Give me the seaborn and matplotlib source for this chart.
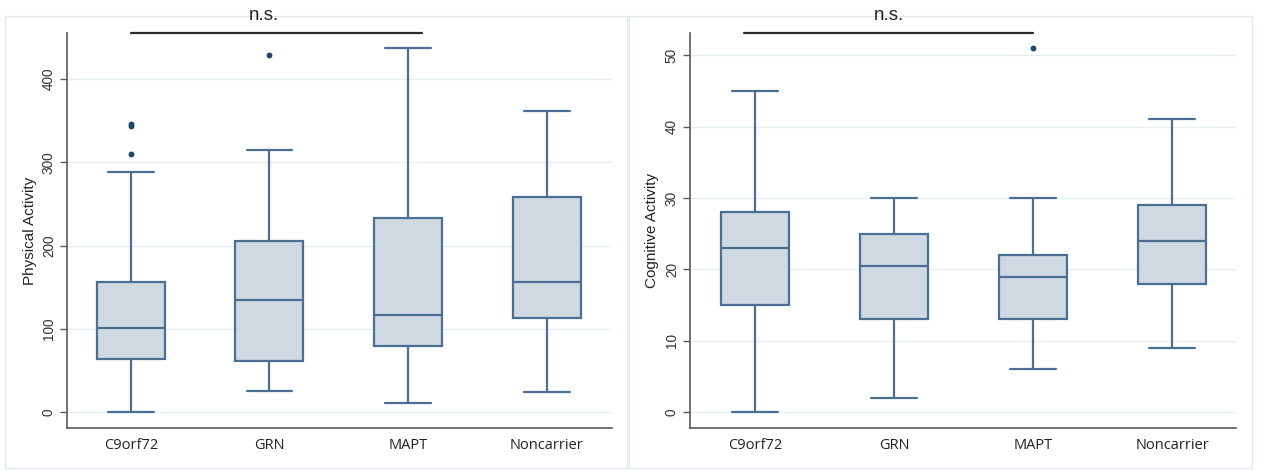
import numpy as np
import pandas as pd
import matplotlib
matplotlib.use("Agg")
import matplotlib.pyplot as plt
import seaborn as sns
from matplotlib.patches import Rectangle

# Carrier groups on the x axis
groups = ["C9orf72", "GRN", "MAPT", "Noncarrier"]

# Physical activity: whisker ends, quartiles and median per group
phys_low = [0, 26, 11, 25]
phys_q1 = [64, 62, 80, 113]
phys_med = [101, 135, 117, 157]
phys_q3 = [156, 206, 233, 258]
phys_high = [288, 315, 437, 361]
phys_out_group = ["C9orf72", "C9orf72", "C9orf72", "GRN"]
phys_out_value = [310, 343, 346, 429]
phys_ticks = [0, 100, 200, 300, 400]

# Cognitive activity: whisker ends, quartiles and median per group
cog_low = [0, 2, 6, 9]
cog_q1 = [15, 13, 13, 18]
cog_med = [23, 20.5, 19, 24]
cog_q3 = [28, 25, 22, 29]
cog_high = [45, 30, 30, 41]
cog_out_group = ["MAPT"]
cog_out_value = [51]
cog_ticks = [0, 10, 20, 30, 40, 50]

BOX_FILL = "#CFD9E2"
BOX_EDGE = "#4B6F94"
DOT = "#1A476F"
GRID = "#E3EFF1"
SPINE = "#5A5A5A"
FRAME = "#E2E9EC"


def five_number_frame(low, q1, med, q3, high):
    # five ordered values per group reproduce the quartiles exactly
    rows = []
    for g, a, b, c, d, e in zip(groups, low, q1, med, q3, high):
        for v in (a, b, c, d, e):
            rows.append({"group": g, "value": v})
    return pd.DataFrame(rows)


sns.set_theme(style="white")
plt.rcParams["font.family"] = ["Liberation Sans", "DejaVu Sans"]

fig = plt.figure(figsize=(12.62, 4.70), dpi=100)
W, H = 1262.0, 470.0

# light panel frames behind each plot
for x0, x1 in [(5, 627), (629, 1252)]:
    fig.patches.append(Rectangle((x0 / W, 1 - 468 / H), (x1 - x0) / W, (468 - 16) / H,
                                 transform=fig.transFigure, facecolor="white",
                                 edgecolor=FRAME, linewidth=1.0, zorder=-10))

panels = [
    dict(rect=[67 / W, 1 - 428.3 / H, 545 / W, 395.3 / H],
         df=five_number_frame(phys_low, phys_q1, phys_med, phys_q3, phys_high),
         out_g=phys_out_group, out_v=phys_out_value, ticks=phys_ticks,
         ylim=(-19, 455), xlim=(-0.46, 3.47), label="Physical Activity",
         label_x=-0.055, span=(0.0, 2.1), ns_x=0.96),
    dict(rect=[690 / W, 1 - 428.3 / H, 546 / W, 395.3 / H],
         df=five_number_frame(cog_low, cog_q1, cog_med, cog_q3, cog_high),
         out_g=cog_out_group, out_v=cog_out_value, ticks=cog_ticks,
         ylim=(-2.24, 53.1), xlim=(-0.47, 3.46), label="Cognitive Activity",
         label_x=-0.057, span=(-0.08, 2.0), ns_x=0.96),
]

for p in panels:
    ax = fig.add_axes(p["rect"])
    ax.set_zorder(1)
    ax.patch.set_alpha(0)
    sns.boxplot(data=p["df"], x="group", y="value", order=groups, whis=(0, 100),
                width=0.49, color=BOX_FILL, linecolor=BOX_EDGE, linewidth=1.6,
                saturation=1, fliersize=0, capwidths=0.33, ax=ax)
    sns.stripplot(x=p["out_g"], y=p["out_v"], order=groups, jitter=False,
                  color=DOT, size=4.2, linewidth=0, ax=ax)

    ax.set_xlim(*p["xlim"])
    ax.set_ylim(*p["ylim"])
    ax.set_yticks(p["ticks"])
    ax.set_yticklabels([str(t) for t in p["ticks"]], rotation=90, va="center",
                       fontsize=9.8, color="#333333")
    ax.set_xticks(range(len(groups)))
    ax.set_xticklabels(groups, fontsize=10.5, color="#222222", family=["Open Sans", "DejaVu Sans"])
    ax.tick_params(axis="x", length=0, pad=7)
    ax.tick_params(axis="y", left=True, length=5, width=1, color=SPINE, direction="out", pad=3)
    ax.grid(axis="y", color=GRID, linewidth=1.0)
    ax.grid(axis="x", visible=False)
    ax.set_axisbelow(True)
    for side in ("top", "right"):
        ax.spines[side].set_visible(False)
    for side in ("left", "bottom"):
        ax.spines[side].set_color(SPINE)
        ax.spines[side].set_linewidth(1.2)

    ax.set_xlabel("")
    ax.set_ylabel(p["label"], fontsize=11, color="#222222")
    ax.yaxis.set_label_coords(p["label_x"], 0.5)

    # significance bracket above the groups
    tr = ax.get_xaxis_transform()
    ax.plot(list(p["span"]), [1.0, 1.0], transform=tr, color="#2A2A2A",
            linewidth=1.6, clip_on=False)
    ax.text(p["ns_x"], 1.033, "n.s.", transform=tr, ha="center", va="baseline",
            fontsize=13.5, color="#222222")

fig.savefig("out.png", dpi=100, facecolor="white")
